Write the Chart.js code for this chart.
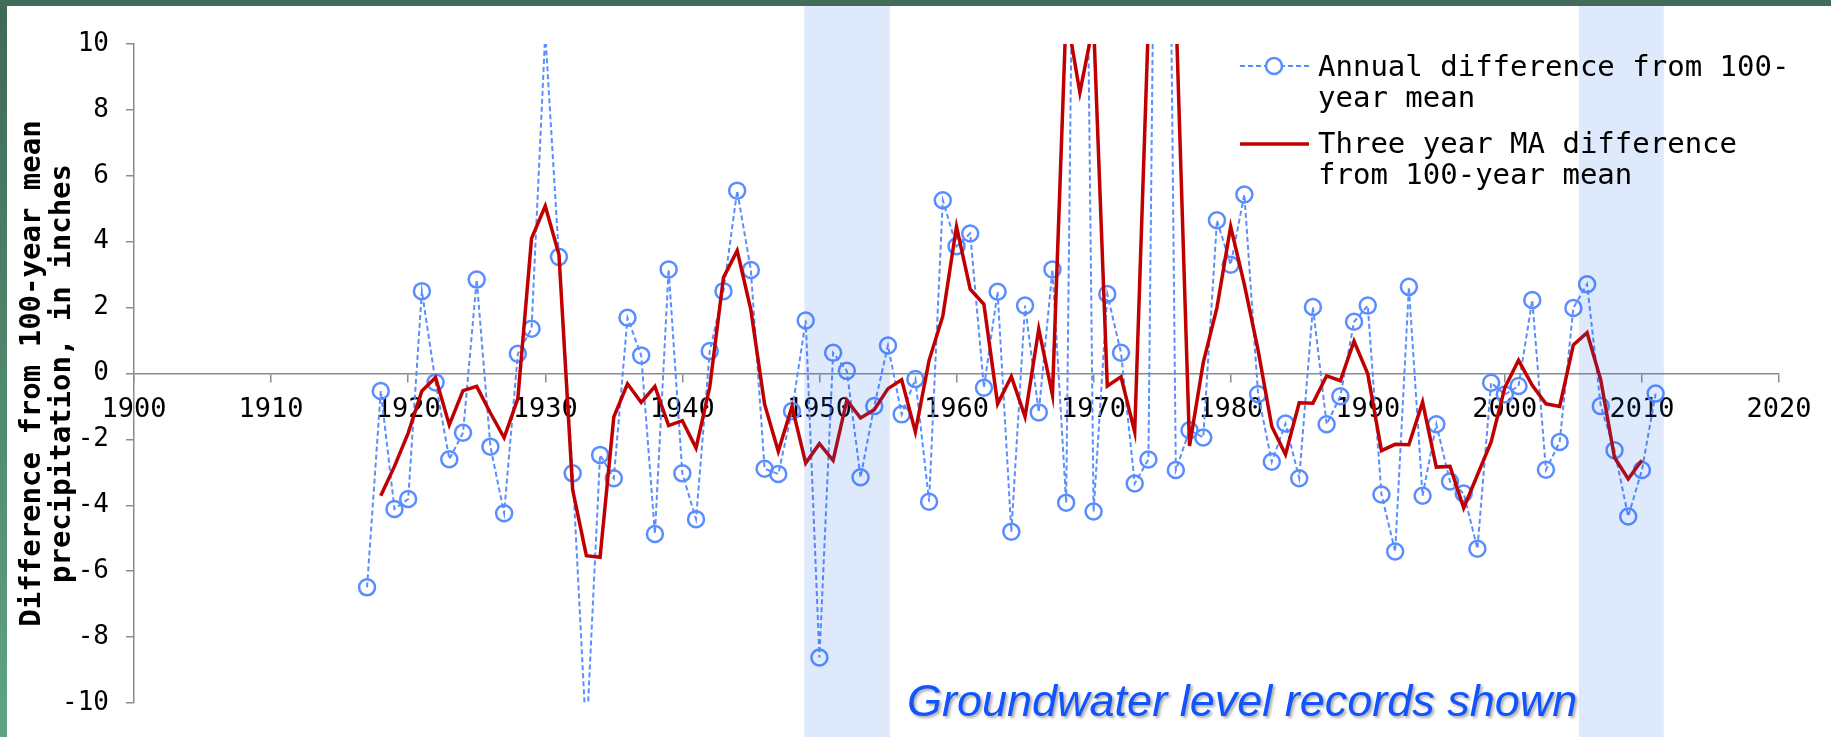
<!DOCTYPE html>
<html>
<head>
<meta charset="utf-8">
<title>Precipitation difference from 100-year mean</title>
<script src="https://cdn.jsdelivr.net/npm/chart.js@4.4.1/dist/chart.umd.min.js"></script>
<style>
  html, body { margin: 0; padding: 0; background: #fff; }
  canvas { display: block; }
</style>
</head>
<body>
<canvas id="precipChart" width="1831" height="737"></canvas>
<script>
// Data (inches from the 100-year mean)
const annualYears = [
  1917, 1918, 1919, 1920, 1921, 1922, 1923, 1924, 1925, 1926, 1927, 1928, 1929, 1930,
  1931, 1932, 1933, 1934, 1935, 1936, 1937, 1938, 1939, 1940, 1941, 1942, 1943, 1944,
  1945, 1946, 1947, 1948, 1949, 1950, 1951, 1952, 1953, 1954, 1955, 1956, 1957, 1958,
  1959, 1960, 1961, 1962, 1963, 1964, 1965, 1966, 1967, 1968, 1969, 1970, 1971, 1972,
  1973, 1974, 1975, 1976, 1977, 1978, 1979, 1980, 1981, 1982, 1983, 1984, 1985, 1986,
  1987, 1988, 1989, 1990, 1991, 1992, 1993, 1994, 1995, 1996, 1997, 1998, 1999, 2000,
  2001, 2002, 2003, 2004, 2005, 2006, 2007, 2008, 2009, 2010, 2011
];
const annualDiff = [
  -6.49, -0.53, -4.11, -3.81, 2.50, -0.27, -2.60, -1.80, 2.85, -2.22, -4.24, 0.60, 1.36, 10.33,
  3.54, -3.03, -11.1, -2.47, -3.18, 1.69, 0.55, -4.87, 3.16, -3.03, -4.42, 0.68, 2.50, 5.55,
  3.14, -2.89, -3.05, -1.14, 1.61, -8.62, 0.63, 0.08, -3.15, -0.99, 0.85, -1.24, -0.17, -3.89,
  5.26, 3.86, 4.25, -0.43, 2.48, -4.80, 2.06, -1.18, 3.16, -3.92, 33.7, -4.19, 2.41, 0.63,
  -3.34, -2.61, 38.0, -2.93, -1.72, -1.94, 4.65, 3.30, 5.43, -0.63, -2.68, -1.52, -3.18, 2.02,
  -1.54, -0.69, 1.57, 2.06, -3.67, -5.40, 2.63, -3.71, -1.54, -3.28, -3.64, -5.32, -0.28, -0.64,
  -0.38, 2.23, -2.92, -2.08, 1.99, 2.71, -0.99, -2.33, -4.34, -2.93, -0.61
];

const maYears = [
  1918, 1919, 1920, 1921, 1922, 1923, 1924, 1925, 1926, 1927, 1928, 1929, 1930, 1931,
  1932, 1933, 1934, 1935, 1936, 1937, 1938, 1939, 1940, 1941, 1942, 1943, 1944, 1945,
  1946, 1947, 1948, 1949, 1950, 1951, 1952, 1953, 1954, 1955, 1956, 1957, 1958, 1959,
  1960, 1961, 1962, 1963, 1964, 1965, 1966, 1967, 1968, 1969, 1970, 1971, 1972, 1973,
  1974, 1975, 1976, 1977, 1978, 1979, 1980, 1981, 1982, 1983, 1984, 1985, 1986, 1987,
  1988, 1989, 1990, 1991, 1992, 1993, 1994, 1995, 1996, 1997, 1998, 1999, 2000, 2001,
  2002, 2003, 2004, 2005, 2006, 2007, 2008, 2009, 2010
];
const maDiff = [
  -3.71, -2.82, -1.81, -0.53, -0.12, -1.56, -0.52, -0.39, -1.20, -1.95, -0.76, 4.10, 5.08, 3.61,
  -3.53, -5.53, -5.58, -1.32, -0.31, -0.88, -0.39, -1.58, -1.43, -2.26, -0.41, 2.91, 3.73, 1.93,
  -0.93, -2.36, -1.00, -2.72, -2.13, -2.64, -0.81, -1.35, -1.10, -0.46, -0.19, -1.77, 0.40, 1.74,
  4.46, 2.56, 2.10, -0.92, -0.09, -1.31, 1.35, -0.65, 10.98, 8.53, 10.64, -0.38, -0.10, -1.77,
  10.68, 10.82, 11.12, -2.20, 0.33, 2.00, 4.46, 2.70, 0.71, -1.61, -2.46, -0.89, -0.90, -0.07,
  -0.22, 0.98, -0.01, -2.34, -2.15, -2.16, -0.87, -2.84, -2.82, -4.08, -3.08, -2.08, -0.43, 0.40,
  -0.36, -0.92, -1.00, 0.87, 1.24, -0.20, -2.55, -3.20, -2.63
];

// Periods with groundwater level records (shaded)
const recordStart = [1948.9, 2005.4];
const recordEnd = [1955.15, 2011.6];

const xTickYears = [1900, 1910, 1920, 1930, 1940, 1950, 1960, 1970, 1980, 1990, 2000, 2010, 2020];

const annualLabel = ['Annual difference from 100-', 'year mean'];
const maLabel = ['Three year MA difference', 'from 100-year mean'];
const yTitle = ['Difference from 100-year mean', 'precipitation, in inches'];
const noteText = 'Groundwater level records shown';

// Styles
const BLUE = '#5a8dff';
const RED = '#c00000';
const AXIS_GRAY = '#8c8c8c';
const MONO = '"DejaVu Sans Mono", monospace';

Chart.defaults.font.family = MONO;

// Frame, shaded record periods, legend and note
const decorPlugin = {
  id: 'decor',
  beforeDraw(chart) {
    const ctx = chart.ctx;
    const w = chart.width, h = chart.height;
    ctx.save();
    ctx.fillStyle = '#ffffff';
    ctx.fillRect(0, 0, w, h);
    const grad = ctx.createLinearGradient(0, 0, 0, h);
    grad.addColorStop(0, '#3f6957');
    grad.addColorStop(1, '#5fa386');
    ctx.fillStyle = grad;
    ctx.fillRect(0, 0, 7, h);
    ctx.fillStyle = '#426b5a';
    ctx.fillRect(0, 0, w, 6);
    ctx.restore();
  },
  afterDatasetsDraw(chart) {
    const ctx = chart.ctx;
    const xs = chart.scales.x;
    ctx.save();
    ctx.fillStyle = 'rgba(27, 98, 234, 0.14)';
    recordStart.forEach((start, i) => {
      const x1 = xs.getPixelForValue(start);
      const x2 = xs.getPixelForValue(recordEnd[i]);
      ctx.fillRect(x1, 6, x2 - x1, chart.height - 6);
    });
    ctx.restore();
  },
  afterDraw(chart) {
    const ctx = chart.ctx;
    ctx.save();

    // legend: annual series
    ctx.strokeStyle = BLUE;
    ctx.lineWidth = 2;
    ctx.setLineDash([5, 3]);
    ctx.beginPath();
    ctx.moveTo(1240, 66);
    ctx.lineTo(1309, 66);
    ctx.stroke();
    ctx.setLineDash([]);
    ctx.lineWidth = 2.5;
    ctx.fillStyle = '#fff';
    ctx.beginPath();
    ctx.arc(1274, 66, 8, 0, Math.PI * 2);
    ctx.fill();
    ctx.stroke();

    // legend: moving average
    ctx.strokeStyle = RED;
    ctx.lineWidth = 3.5;
    ctx.beginPath();
    ctx.moveTo(1240, 144);
    ctx.lineTo(1309, 144);
    ctx.stroke();

    ctx.fillStyle = '#000';
    ctx.font = '29px ' + MONO;
    ctx.textBaseline = 'middle';
    ctx.textAlign = 'left';
    annualLabel.forEach((line, i) => ctx.fillText(line, 1318, 68 + i * 31));
    maLabel.forEach((line, i) => ctx.fillText(line, 1318, 145 + i * 31));

    // note at the bottom
    ctx.font = 'italic 45px "Liberation Sans", Arial, sans-serif';
    ctx.textBaseline = 'alphabetic';
    ctx.fillStyle = '#1053ff';
    ctx.shadowColor = 'rgba(0, 0, 0, 0.35)';
    ctx.shadowOffsetX = 2;
    ctx.shadowOffsetY = 2;
    ctx.shadowBlur = 3;
    ctx.fillText(noteText, 907, 716);
    ctx.restore();
  }
};

const ctx = document.getElementById('precipChart').getContext('2d');
const precipChart = new Chart(ctx, {
  type: 'line',
  data: {
    datasets: [
      {
        label: maLabel.join(' '),
        data: maYears.map((yr, i) => ({ x: yr, y: maDiff[i] })),
        borderColor: RED,
        borderWidth: 3.5,
        pointRadius: 0,
        tension: 0,
        order: 0
      },
      {
        label: annualLabel.join(''),
        data: annualYears.map((yr, i) => ({ x: yr, y: annualDiff[i] })),
        borderColor: BLUE,
        borderWidth: 2,
        borderDash: [5, 3],
        pointRadius: 8,
        pointBorderWidth: 2.5,
        pointBorderColor: BLUE,
        pointBackgroundColor: 'rgba(0,0,0,0)',
        tension: 0,
        order: 1
      }
    ]
  },
  options: {
    responsive: false,
    animation: false,
    devicePixelRatio: 1,
    layout: { padding: { left: 0, top: 44, right: 52, bottom: 34 } },
    plugins: {
      legend: { display: false },
      tooltip: { enabled: false }
    },
    scales: {
      x: {
        type: 'linear',
        min: 1900,
        max: 2020,
        position: { y: 0 },
        afterBuildTicks: scale => { scale.ticks = xTickYears.map(v => ({ value: v })); },
        ticks: {
          callback: v => String(v),
          color: '#000',
          font: { family: MONO, size: 27 },
          padding: 12,
          maxRotation: 0,
          autoSkip: false
        },
        grid: { drawOnChartArea: false, tickLength: 8, color: AXIS_GRAY, lineWidth: 1.5 },
        border: { color: AXIS_GRAY, width: 1.5 }
      },
      y: {
        min: -10,
        max: 10,
        ticks: {
          stepSize: 2,
          color: '#000',
          font: { family: MONO, size: 26 },
          padding: 17
        },
        grid: { drawOnChartArea: false, tickLength: 8, color: AXIS_GRAY, lineWidth: 1.5 },
        border: { color: AXIS_GRAY, width: 1.5 },
        title: {
          display: true,
          text: yTitle,
          color: '#000',
          font: { family: MONO, size: 29, weight: 'bold', lineHeight: 1.05 },
          padding: { top: 17, bottom: 0 }
        },
        afterFit: scale => { scale.width = 134; }
      }
    }
  },
  plugins: [decorPlugin]
});
</script>
</body>
</html>
